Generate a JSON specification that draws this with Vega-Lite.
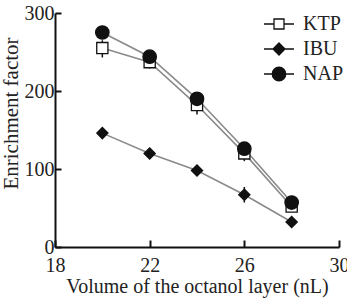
{
  "$schema": "https://vega.github.io/schema/vega-lite/v6.json",
  "autosize": "none",
  "width": 284,
  "height": 234,
  "padding": {"left": 55, "top": 13, "right": 8, "bottom": 54},
  "background": "white",
  "config": {
    "view": {"stroke": null},
    "font": "Liberation Serif",
    "axis": {
      "labelFont": "Liberation Serif",
      "titleFont": "Liberation Serif",
      "labelFontSize": 20,
      "titleFontSize": 20,
      "labelColor": "#222",
      "titleColor": "#222",
      "titleFontWeight": "normal",
      "domainColor": "#111",
      "domainWidth": 2,
      "tickColor": "#111",
      "tickWidth": 2,
      "grid": false
    }
  },
  "data": {
    "values": [
      {"series": "KTP", "vol": 20, "ef": 255, "lo": 243, "hi": 265},
      {"series": "KTP", "vol": 22, "ef": 237, "lo": 229, "hi": 244},
      {"series": "KTP", "vol": 24, "ef": 182, "lo": 170, "hi": 192},
      {"series": "KTP", "vol": 26, "ef": 120, "lo": 110, "hi": 129},
      {"series": "KTP", "vol": 28, "ef": 52, "lo": 47, "hi": 57},
      {"series": "IBU", "vol": 20, "ef": 146, "lo": 142, "hi": 150},
      {"series": "IBU", "vol": 22, "ef": 120, "lo": 117, "hi": 123},
      {"series": "IBU", "vol": 24, "ef": 98, "lo": 95, "hi": 101},
      {"series": "IBU", "vol": 26, "ef": 67, "lo": 57, "hi": 77},
      {"series": "IBU", "vol": 28, "ef": 32, "lo": 29, "hi": 35},
      {"series": "NAP", "vol": 20, "ef": 275, "lo": 270, "hi": 280},
      {"series": "NAP", "vol": 22, "ef": 244, "lo": 240, "hi": 248},
      {"series": "NAP", "vol": 24, "ef": 190, "lo": 185, "hi": 195},
      {"series": "NAP", "vol": 26, "ef": 126, "lo": 121, "hi": 131},
      {"series": "NAP", "vol": 28, "ef": 57, "lo": 53, "hi": 61}
    ]
  },
  "encoding": {
    "x": {
      "field": "vol", "type": "quantitative",
      "scale": {"domain": [18, 30], "nice": false, "zero": false},
      "axis": {"values": [18, 22, 26, 30], "tickSize": -7, "labelPadding": 15, "title": "Volume of the octanol layer (nL)", "titlePadding": 1, "labelFlush": false}
    }
  },
  "layer": [
    {
      "mark": {"type": "rule", "color": "#111", "strokeWidth": 1.5},
      "encoding": {
        "y": {
          "field": "lo", "type": "quantitative",
          "scale": {"domain": [0, 300], "nice": false},
          "axis": {"values": [0, 100, 200, 300], "tickSize": -6, "labelPadding": 7, "title": "Enrichment factor", "titlePadding": 3, "titleFontSize": 21, "titleY": 100}
        },
        "y2": {"field": "hi"}
      }
    },
    {
      "mark": {"type": "line", "color": "#8a8a8a", "strokeWidth": 1.6},
      "encoding": {
        "y": {"field": "ef", "type": "quantitative"},
        "detail": {"field": "series"}
      }
    },
    {
      "mark": {"type": "point", "filled": true, "opacity": 1, "stroke": "#111", "strokeWidth": 1.3},
      "encoding": {
        "y": {"field": "ef", "type": "quantitative"},
        "shape": {
          "condition": [
            {"test": "datum.series === 'KTP'", "value": "square"},
            {"test": "datum.series === 'IBU'", "value": "diamond"}
          ],
          "value": "circle"
        },
        "fill": {"condition": {"test": "datum.series === 'KTP'", "value": "white"}, "value": "#111"},
        "size": {"condition": {"test": "datum.series === 'NAP'", "value": 180}, "value": 125}
      }
    },
    {
      "mark": {"type": "point", "filled": true, "opacity": 0, "size": 100},
      "encoding": {
        "y": {"field": "ef", "type": "quantitative"},
        "color": {
          "field": "series", "type": "nominal",
          "scale": {"domain": ["KTP", "IBU", "NAP"], "range": ["white", "#111", "#111"]},
          "legend": {
            "title": null, "orient": "none", "legendX": 214, "legendY": 1, "padding": 0,
            "labelFont": "Liberation Serif", "labelFontSize": 20, "labelColor": "#222",
            "labelOffset": 14, "rowPadding": 5,
            "encode": {
              "symbols": {
                "update": {
                  "opacity": {"value": 1},
                  "stroke": {"value": "#111"},
                  "strokeWidth": {"value": 1.3}
                }
              }
            }
          }
        },
        "shape": {
          "field": "series", "type": "nominal",
          "scale": {"domain": ["KTP", "IBU", "NAP"], "range": ["M-3,0H-1M1,0H3M-1,-1H1V1H-1Z", "M-3,0H3M0,-1.2L1.2,0L0,1.2L-1.2,0Z", "M-3,0H3M1.35,0A1.35,1.35,0,1,1,-1.35,0A1.35,1.35,0,1,1,1.35,0Z"]},
          "legend": {
            "title": null, "orient": "none", "legendX": 214, "legendY": 1, "padding": 0,
            "labelFont": "Liberation Serif", "labelFontSize": 20, "labelColor": "#222",
            "labelOffset": 14, "rowPadding": 5,
            "encode": {
              "symbols": {
                "update": {
                  "opacity": {"value": 1},
                  "stroke": {"value": "#111"},
                  "strokeWidth": {"value": 1.3}
                }
              }
            }
          }
        }
      }
    }
  ]
}
